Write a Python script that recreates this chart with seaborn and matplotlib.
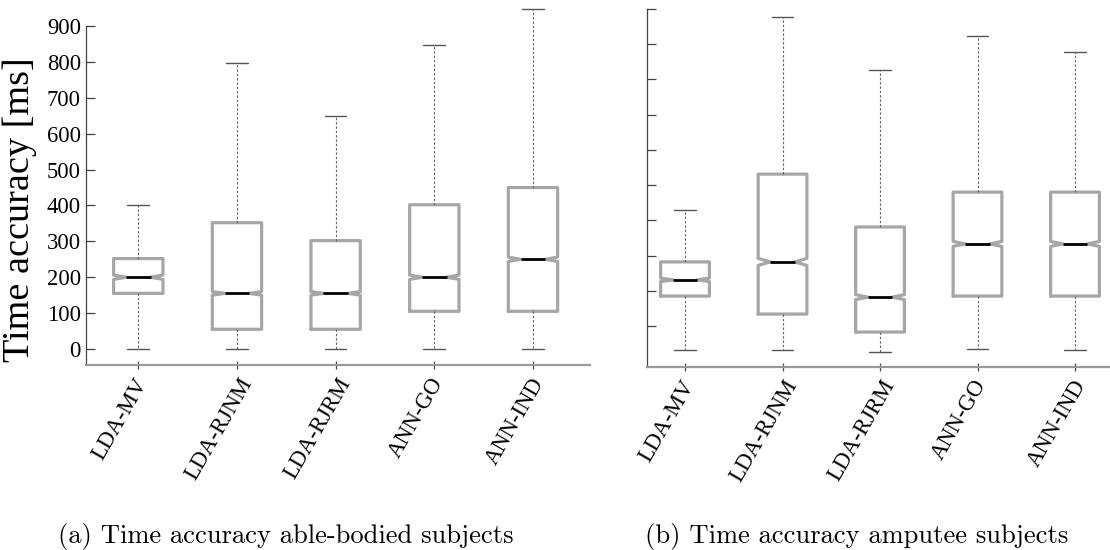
import matplotlib
matplotlib.use("Agg")
import matplotlib.pyplot as plt
import matplotlib.transforms as mtransforms
import seaborn as sns

# ---------------- data ----------------
categories = ["LDA-MV", "LDA-RJNM", "LDA-RJRM", "ANN-GO", "ANN-IND"]

able_whislo = [0, 0, 0, 0, 0]
able_q1 = [155, 55, 55, 105, 105]
able_med = [200, 155, 155, 200, 250]
able_q3 = [252, 352, 302, 402, 450]
able_whishi = [400, 797, 648, 848, 948]
able_notch = [6, 5, 5, 6, 6]

amp_whislo = [32, 32, 26, 35, 32]
amp_q1 = [185, 134, 83, 185, 185]
amp_med = [231, 282, 182, 333, 333]
amp_q3 = [282, 531, 381, 480, 480]
amp_whishi = [429, 978, 826, 923, 877]
amp_notch = [5, 10, 7, 7, 7]

able_yticks = [0, 100, 200, 300, 400, 500, 600, 700, 800, 900]
amp_yticks = [100, 200, 300, 400, 500, 600, 700, 800, 900, 1000]

ylabel_text = "Time accuracy [ms]"
captions = ["(a) Time accuracy able-bodied subjects",
            "(b) Time accuracy amputee subjects"]

# ---------------- style ----------------
sns.set_theme(style="ticks")
SERIF = ["Liberation Serif", "DejaVu Serif"]
plt.rcParams["font.family"] = SERIF

BOX = "#a6a6a6"
DARK = "#444444"

W, H, DPI = 1110, 550, 100
fig = plt.figure(figsize=(W / DPI, H / DPI), dpi=DPI)
fig.patch.set_facecolor("white")


def px_axes(left, top, right, bottom):
    return fig.add_axes([left / W, (H - bottom) / H, (right - left) / W, (bottom - top) / H])


ax1 = px_axes(86, 4.5, 590, 365)
ax2 = px_axes(647, 5.3, 1110, 367)


def draw(ax, lo, q1, med, q3, hi, notch):
    stats = []
    for c, a, b, m, d, e, n in zip(categories, lo, q1, med, q3, hi, notch):
        stats.append(dict(label=c, whislo=a, q1=b, med=m, q3=d, whishi=e,
                          cilo=m - n, cihi=m + n, fliers=[]))
    pos = list(range(1, len(categories) + 1))
    ax.bxp(stats, positions=pos, widths=0.5, capwidths=0.22,
           shownotches=True, showfliers=False, patch_artist=False,
           boxprops=dict(color=BOX, linewidth=2.3, solid_joinstyle="round"),
           medianprops=dict(color="black", linewidth=2.0, solid_capstyle="butt"),
           whiskerprops=dict(color="#666666", linewidth=0.8, linestyle=(0, (2.2, 1.7))),
           capprops=dict(color="#555555", linewidth=1.0))
    ax.set_facecolor("white")
    for s in ["top", "right"]:
        ax.spines[s].set_visible(False)
    ax.spines["left"].set_color(DARK)
    ax.spines["left"].set_linewidth(0.9)
    ax.spines["bottom"].set_color("#999999")
    ax.spines["bottom"].set_linewidth(1.6)
    ax.set_xticks(pos)
    ax.set_xticklabels(categories, rotation=60, ha="center", va="top",
                       rotation_mode="default", fontsize=16.3, color="black",
                       fontfamily=SERIF)
    ax.tick_params(axis="x", direction="inout", length=5.8, width=0.9,
                   color=DARK, pad=3.8)
    ax.tick_params(axis="y", direction="in", length=6.5, width=0.9,
                   color=DARK, pad=3.6, labelsize=16.3, labelcolor="black")
    ax.grid(False)


draw(ax1, able_whislo, able_q1, able_med, able_q3, able_whishi, able_notch)
draw(ax2, amp_whislo, amp_q1, amp_med, amp_q3, amp_whishi, amp_notch)

ax1.set_xlim(0.470, 5.578)
ax1.set_ylim(-44.6, 960)
ax1.set_yticks(able_yticks)
ax1.set_yticklabels([str(v) for v in able_yticks], fontfamily=SERIF, fontsize=16.3)
ax1.spines["left"].set_bounds(-44.6, 900)

ax2.set_xlim(0.610, 5.359)
ax2.set_ylim(-16.2, 1010)
ax2.set_yticks(amp_yticks)
ax2.set_yticklabels([])
ax2.spines["left"].set_bounds(-16.2, 1000)

ax1.set_ylabel(ylabel_text, fontsize=27.5, color="black", fontfamily=SERIF)
ax1.yaxis.set_label_coords(-0.098, 0.43)

# shift the rotated tick labels to the left, as in the reference
shift = mtransforms.ScaledTranslation(-18 / DPI, 0, fig.dpi_scale_trans)
for ax in (ax1, ax2):
    for lab in ax.get_xticklabels():
        lab.set_transform(lab.get_transform() + shift)

# captions in a Computer-Modern-like face, sized to the reference width
fig.canvas.draw()
r = fig.canvas.get_renderer()
tb = fig.text(645 / W, 7 / H, captions[1], fontfamily="cmr10", fontsize=18,
              ha="left", va="baseline", color="black")
wb = tb.get_window_extent(r).width
fs = 18 * 424 / wb
tb.set_fontsize(fs)
ta = fig.text(58 / W, 7 / H, captions[0], fontfamily="cmr10", fontsize=fs,
              ha="left", va="baseline", color="black")

fig.savefig("out.png", dpi=DPI, facecolor="white")
